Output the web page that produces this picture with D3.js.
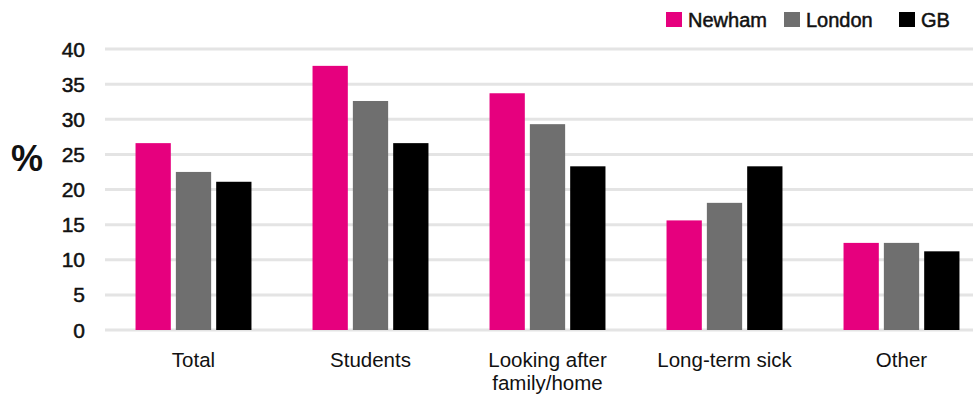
<!DOCTYPE html>
<html>
<head>
<meta charset="utf-8">
<script src="https://cdn.jsdelivr.net/npm/d3@7"></script>
<style>
  body { margin: 0; background: #fff; }
  svg { display: block; font-family: "Liberation Sans", Arial, sans-serif; }
</style>
</head>
<body>
<div id="chart"></div>
<script>
const categories = ["Total", "Students", "Looking after family/home", "Long-term sick", "Other"];
const seriesNames = ["Newham", "London", "GB"];
const newham = [26.6, 37.6, 33.7, 15.6, 12.4];
const london = [22.5, 32.6, 29.3, 18.1, 12.4];
const gb = [21.1, 26.6, 23.3, 23.3, 11.2];
const yTicks = [0, 5, 10, 15, 20, 25, 30, 35, 40];
const colours = ["#e6007e", "#6f6f6f", "#000000"];

const size = { width: 973, height: 396 };
const values = [newham, london, gb];

const svg = d3.select("#chart").append("svg")
  .attr("width", size.width)
  .attr("height", size.height);

const y = d3.scaleLinear().domain([0, 40]).range([330, 49]);

// outer band per category, inner band per series
const x0 = d3.scaleBand()
  .domain(categories)
  .range([105, 990])
  .paddingInner(0.345)
  .paddingOuter(0.1725);

const x1 = d3.scaleBand()
  .domain(seriesNames)
  .range([0, x0.bandwidth()])
  .paddingInner(0.125);

// gridlines
svg.append("g")
  .selectAll("line")
  .data(yTicks)
  .join("line")
  .attr("x1", 105)
  .attr("x2", size.width)
  .attr("y1", (d) => y(d))
  .attr("y2", (d) => y(d))
  .attr("stroke", "#e4e4e4")
  .attr("stroke-width", 3);

// y tick labels (medium weight faked with a thin stroke)
svg.append("g")
  .selectAll("text")
  .data(yTicks)
  .join("text")
  .attr("x", 85)
  .attr("y", (d) => y(d))
  .attr("dy", "0.36em")
  .attr("text-anchor", "end")
  .style("font-size", "21px")
  .attr("fill", "#111")
  .attr("stroke", "#111")
  .attr("stroke-width", 0.5)
  .text((d) => d);

svg.append("text")
  .attr("x", 27)
  .attr("y", 158)
  .attr("dy", "0.36em")
  .attr("text-anchor", "middle")
  .style("font-size", "36px")
  .style("font-weight", "bold")
  .attr("fill", "#111")
  .text("%");

// bars
const groups = svg.append("g")
  .selectAll("g")
  .data(categories)
  .join("g")
  .attr("transform", (d) => `translate(${x0(d)},0)`);

groups.selectAll("rect")
  .data((d, i) => seriesNames.map((s, j) => ({ s, v: values[j][i], c: colours[j] })))
  .join("rect")
  .attr("x", (d) => x1(d.s))
  .attr("width", x1.bandwidth())
  .attr("y", (d) => y(d.v))
  .attr("height", (d) => y(0) - y(d.v))
  .attr("fill", (d) => d.c);

// category labels, wrapped
const labelLines = {
  "Looking after family/home": ["Looking after", "family/home"],
};
svg.append("g")
  .selectAll("text")
  .data(categories)
  .join("text")
  .attr("x", (d) => x0(d) + x0.bandwidth() / 2)
  .attr("y", 367)
  .attr("text-anchor", "middle")
  .style("font-size", "20.5px")
  .attr("fill", "#111")
  .each(function (d) {
    const lines = labelLines[d] || [d];
    d3.select(this).selectAll("tspan")
      .data(lines)
      .join("tspan")
      .attr("x", x0(d) + x0.bandwidth() / 2)
      .attr("dy", (l, i) => (i === 0 ? 0 : 23))
      .text((l) => l);
  });

// legend
const legendX = [666, 784, 899];
const legend = svg.append("g")
  .selectAll("g")
  .data(seriesNames)
  .join("g")
  .attr("transform", (d, i) => `translate(${legendX[i]},12)`);

legend.append("rect")
  .attr("width", 16)
  .attr("height", 15)
  .attr("fill", (d, i) => colours[i]);

legend.append("text")
  .attr("x", 22)
  .attr("y", 7.5)
  .attr("dy", "0.36em")
  .style("font-size", "20px")
  .attr("fill", "#111")
  .attr("stroke", "#111")
  .attr("stroke-width", 0.5)
  .text((d) => d);
</script>
</body>
</html>
